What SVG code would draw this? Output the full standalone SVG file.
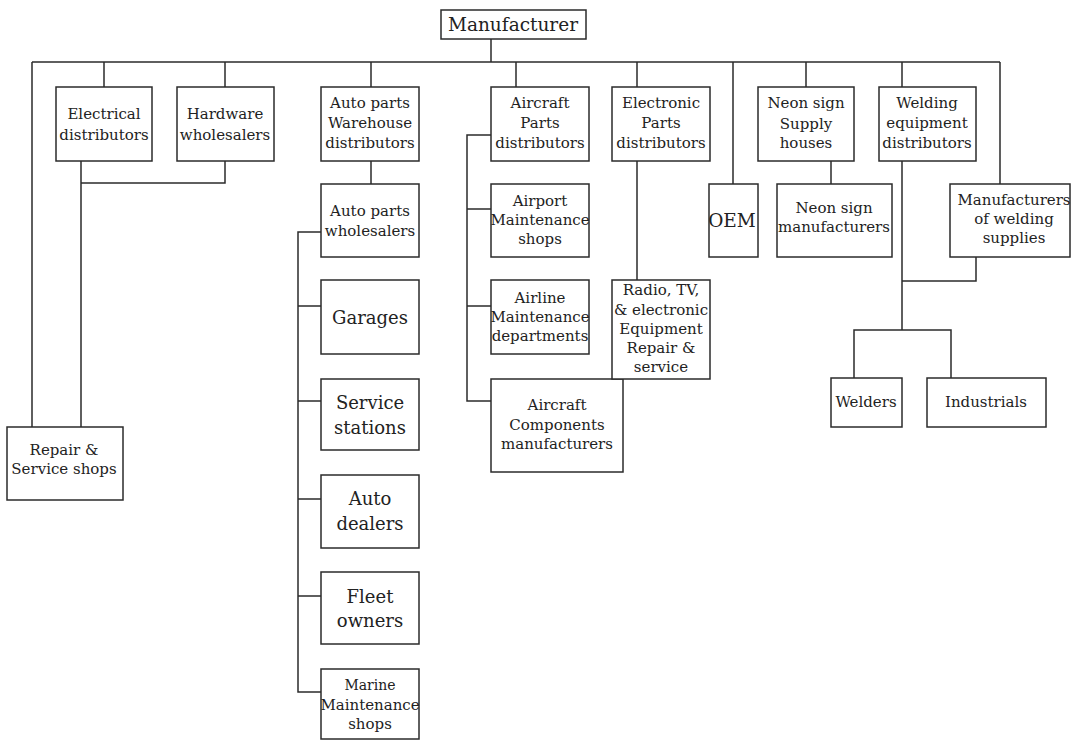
<svg xmlns="http://www.w3.org/2000/svg" width="1072" height="740" viewBox="0 0 1072 740">
<style>
.box{fill:#fff;stroke:#2b2b2b;stroke-width:1.5}
.c{stroke:#2b2b2b;stroke-width:1.5;fill:none}
text{font-family:"DejaVu Serif","Liberation Serif",serif;fill:#222;text-anchor:middle;font-size:15px}
.big{font-size:18px}
.top{font-size:18.5px}
</style>
<rect width="1072" height="740" fill="#fff"/>
<g id="connectors">
<path class="c" d="M491 39V62M32 62H1000M104 62V87M225 62V87M371 62V87M516 62V87M637 62V87M733 62V184M806 62V87M902 62V87M1000 62V184"/>
<path class="c" d="M32 62V427M81 161V427M225 161V183H81"/>
<path class="c" d="M371 161V184M321 232H298V692H321M298 306H321M298 401H321M298 499H321M298 596H321"/>
<path class="c" d="M491 135H467V401H491M467 209H491M467 306H491"/>
<path class="c" d="M637 161V280M831 161V184"/>
<path class="c" d="M902 161V330M902 281H976V257M854 378V330H951V378"/>
</g>
<g id="manufacturer"><rect class="box" x="441" y="10" width="145" height="29"/><text class="top" x="513" y="31">Manufacturer</text></g>
<g id="electrical"><rect class="box" x="56" y="87" width="96" height="74"/><text x="104" y="119">Electrical</text><text x="104" y="140">distributors</text></g>
<g id="hardware"><rect class="box" x="177" y="87" width="97" height="74"/><text x="225" y="119">Hardware</text><text x="225" y="140">wholesalers</text></g>
<g id="repair"><rect class="box" x="7" y="427" width="116" height="73"/><text x="64" y="455">Repair &amp;</text><text x="64" y="474">Service shops</text></g>
<g id="autowarehouse"><rect class="box" x="321" y="87" width="98" height="74"/><text x="370" y="108">Auto parts</text><text x="370" y="128">Warehouse</text><text x="370" y="148">distributors</text></g>
<g id="autowholesalers"><rect class="box" x="321" y="184" width="98" height="73"/><text x="370" y="216">Auto parts</text><text x="370" y="236">wholesalers</text></g>
<g id="garages"><rect class="box" x="321" y="280" width="98" height="74"/><text class="big" x="370" y="324">Garages</text></g>
<g id="service"><rect class="box" x="321" y="379" width="98" height="71"/><text class="big" x="370" y="409">Service</text><text class="big" x="370" y="434">stations</text></g>
<g id="dealers"><rect class="box" x="321" y="475" width="98" height="73"/><text class="big" x="370" y="505">Auto</text><text class="big" x="370" y="530">dealers</text></g>
<g id="fleet"><rect class="box" x="321" y="572" width="98" height="72"/><text class="big" x="370" y="603">Fleet</text><text class="big" x="370" y="627">owners</text></g>
<g id="marine"><rect class="box" x="321" y="669" width="98" height="70"/><text x="370" y="690" style="font-size:14px">Marine</text><text x="370" y="710">Maintenance</text><text x="370" y="729">shops</text></g>
<g id="aircraftparts"><rect class="box" x="491" y="87" width="98" height="74"/><text x="540" y="108">Aircraft</text><text x="540" y="128">Parts</text><text x="540" y="148">distributors</text></g>
<g id="airport"><rect class="box" x="491" y="184" width="98" height="73"/><text x="540" y="206">Airport</text><text x="540" y="225">Maintenance</text><text x="540" y="244">shops</text></g>
<g id="airline"><rect class="box" x="491" y="280" width="98" height="74"/><text x="540" y="303">Airline</text><text x="540" y="322">Maintenance</text><text x="540" y="341">departments</text></g>
<g id="components"><rect class="box" x="491" y="379" width="132" height="93"/><text x="557" y="410">Aircraft</text><text x="557" y="430">Components</text><text x="557" y="449">manufacturers</text></g>
<g id="electronic"><rect class="box" x="612" y="87" width="98" height="74"/><text x="661" y="108">Electronic</text><text x="661" y="128">Parts</text><text x="661" y="148">distributors</text></g>
<g id="radio"><rect class="box" x="612" y="280" width="98" height="99"/><text x="661" y="295">Radio, TV,</text><text x="661" y="315">&amp; electronic</text><text x="661" y="334">Equipment</text><text x="661" y="353">Repair &amp;</text><text x="661" y="372">service</text></g>
<g id="oem"><rect class="box" x="709" y="184" width="49" height="73"/><text class="top" x="732" y="227">OEM</text></g>
<g id="neonsupply"><rect class="box" x="758" y="87" width="96" height="74"/><text x="806" y="108">Neon sign</text><text x="806" y="129">Supply</text><text x="806" y="148">houses</text></g>
<g id="neonmfr"><rect class="box" x="777" y="184" width="115" height="73"/><text x="834" y="213">Neon sign</text><text x="834" y="232">manufacturers</text></g>
<g id="welding"><rect class="box" x="879" y="87" width="97" height="74"/><text x="927" y="108">Welding</text><text x="927" y="128">equipment</text><text x="927" y="148">distributors</text></g>
<g id="weldsupplies"><rect class="box" x="950" y="184" width="120" height="73"/><text x="1014" y="205">Manufacturers</text><text x="1014" y="224">of welding</text><text x="1014" y="243">supplies</text></g>
<g id="welders"><rect class="box" x="831" y="378" width="71" height="49"/><text x="866" y="407">Welders</text></g>
<g id="industrials"><rect class="box" x="927" y="378" width="119" height="49"/><text x="986" y="407">Industrials</text></g>
</svg>
